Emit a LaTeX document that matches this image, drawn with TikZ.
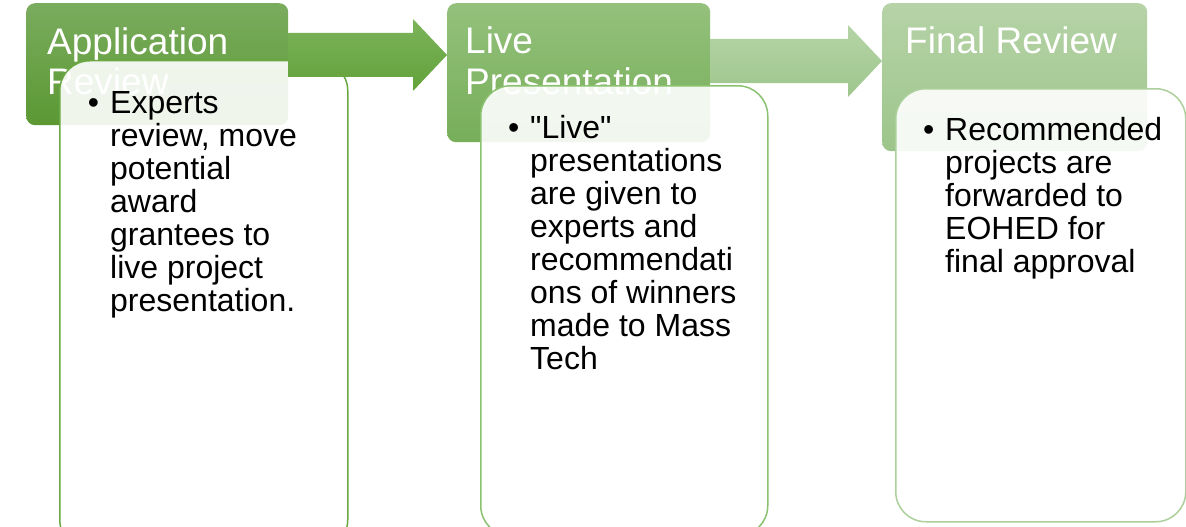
\documentclass[tikz,border=0pt]{standalone}
\usepackage{fontspec}
\setmainfont{Liberation Sans}
\usepackage{xcolor}
\usepackage{tikz}
\usetikzlibrary{calc}
\definecolor{hAtop}{HTML}{7AAC5E}
\definecolor{hAbot}{HTML}{5B9833}
\definecolor{hBtop}{HTML}{94C17C}
\definecolor{hBbot}{HTML}{76AE59}
\definecolor{hCtop}{HTML}{B6D3A7}
\definecolor{hCbot}{HTML}{9DC58B}
\definecolor{aAtop}{HTML}{7BB35B}
\definecolor{aAbot}{HTML}{63A23A}
\definecolor{aBtop}{HTML}{B5D4A6}
\definecolor{aBbot}{HTML}{9EC68C}
\definecolor{lnA}{HTML}{6AA843}
\definecolor{lnB}{HTML}{8BC270}
\definecolor{lnC}{HTML}{ABD09B}
\newcommand{\blockarr}[4]{\path (0,#3) coordinate (ay);
  \shade[#4] (#1.east |- ay) ++(0,-22) -| ($(#2.west |- ay)+(-34,-36)$) -- (#2.west |- ay) -- ++(-34,36) |- ($(#1.east |- ay)+(0,22)$) -- cycle;}

\begin{document}
\begin{tikzpicture}[x=1pt, y=-1pt,
  head/.style={anchor=north west, rounded corners=9pt, inner sep=0pt},
  body/.style={anchor=north west, draw=#1, line width=1.5pt, fill=white, fill opacity=0.9, rounded corners=30pt, inner sep=0pt},
  title/.style={anchor=base west, align=left, text=white, inner sep=0pt, font=\fontsize{37}{40}\selectfont},
  item/.style={anchor=base west, align=left, inner sep=0pt, font=\fontsize{32}{33}\selectfont}]
\path[use as bounding box, fill=white] (0,0) rectangle (1186,527);
\node[head, top color=hAtop, bottom color=hAbot, minimum width=262, minimum height=122] (h1) at (26,3) {};
\node[title] (t1) at (47,95) {Application\\Review};
\node[body=lnA, minimum width=288, minimum height=489] (b1) at (59,60) {};
\node[head, top color=hBtop, bottom color=hBbot, minimum width=263, minimum height=139] (h2) at (447,3) {};
\node[title] (t2) at (465,94) {Live\\Presentation};
\node[body=lnB, minimum width=287, minimum height=450] (b2) at (480,85) {};
\node[head, top color=hCtop, bottom color=hCbot, minimum width=265, minimum height=148] (h3) at (882,3) {};
\node[title] (t3) at (905,54) {Final Review};
\node[body=lnC, minimum width=290, minimum height=433] (b3) at (895,88) {};
\blockarr{h1}{h2}{55}{top color=aAtop, bottom color=aAbot}
\blockarr{h2}{h3}{61}{top color=aBtop, bottom color=aBbot}
\node[item] (x1) at (110,311) {\llap{\textbullet\hspace{11pt}}Experts\\review, move\\potential\\award\\grantees to\\live project\\presentation.};
\node[item] (x2) at (530,369) {\llap{\textbullet\hspace{11pt}}\textquotedbl Live\textquotedbl\\presentations\\are given to\\experts and\\recommendati\\ons of winners\\made to Mass\\Tech};
\node[item] (x3) at (945,272) {\llap{\textbullet\hspace{11pt}}Recommended\\projects are\\forwarded to\\EOHED for\\final approval};
\end{tikzpicture}
\end{document}
